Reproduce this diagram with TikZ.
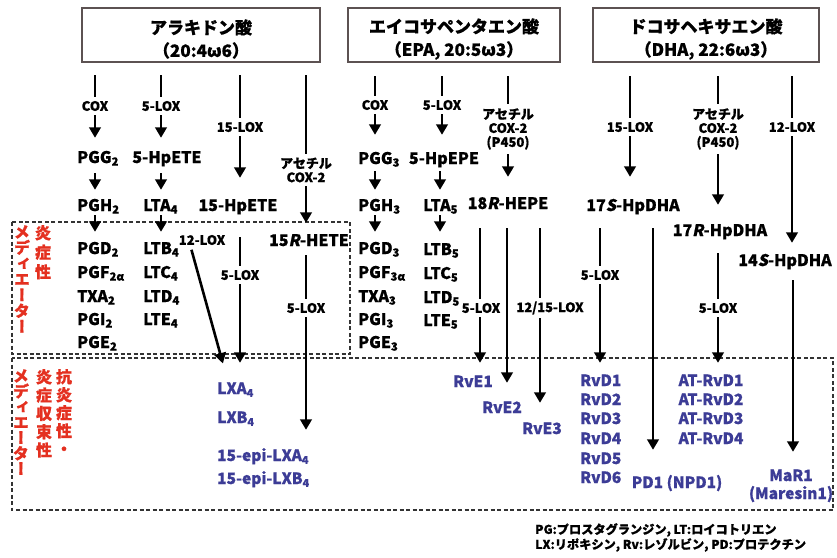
\documentclass[tikz,border=0pt]{standalone}
\usepackage{fontspec}
\setmainfont{Noto Sans CJK JP}[BoldFeatures={FakeBold=0.7}]
\newfontfamily\slantjp{Noto Sans CJK JP}[FakeSlant=0.2,BoldFeatures={FakeBold=0.7}]
\newfontfamily\vertjp{Noto Sans CJK JP}[RawFeature=+vert,BoldFeatures={FakeBold=0.7}]
\usetikzlibrary{arrows.meta}
\definecolor{mblue}{RGB}{60,60,150}
\definecolor{mred}{RGB}{228,48,32}
\definecolor{boxgray}{RGB}{92,82,82}
\newcommand\Sl[1]{{\slantjp\bfseries #1}}
\begin{document}
\begin{tikzpicture}[x=1pt,y=-1pt,
  every node/.style={inner sep=0pt},
  cmp/.style={font=\fontsize{16}{18}\selectfont\bfseries, text height=12pt, text depth=3.5pt},
  blu/.style={font=\fontsize{15.5}{18}\selectfont\bfseries, text=mblue, text height=12pt, text depth=3.5pt},
  enz/.style={font=\fontsize{13}{14}\selectfont\bfseries, fill=white, inner xsep=1pt, inner ysep=4pt, align=center},
  arr/.style={line width=2.6pt, -{Triangle[width=11.5pt,length=10.5pt]}},
  ttlbox/.style={draw=boxgray, line width=2pt, minimum height=54pt},
  ttltext/.style={align=center, font=\fontsize{17}{23}\selectfont\bfseries},
  dbox/.style={draw=black!80, line width=1.5pt, dash pattern=on 4pt off 2.5pt},
  vred/.style={text=mred, align=center, anchor=north},
]
\useasboundingbox (0,0) rectangle (837,557);
\fill[white] (0,0) rectangle (837,557);

% dashed boxes
\draw[dbox] (12,222) rectangle (350,354);
\draw[dbox] (12,358) rectangle (833,510);

% titles
\node[ttlbox, minimum width=238pt] (aa) at (201,35) {};
\node[ttltext] (aat) at (201,39) {アラキドン酸\\（20:4ω6）};
\node[ttlbox, minimum width=212pt] (epa) at (454,35) {};
\node[ttltext] (epat) at (454,39) {エイコサペンタエン酸\\（EPA, 20:5ω3）};
\node[ttlbox, minimum width=226pt] (dha) at (706,35) {};
\node[ttltext] (dhat) at (706,39) {ドコサヘキサエン酸\\（DHA, 22:6ω3）};

% ---- arachidonic acid column ----
\node[cmp, anchor=base west] (pgg2) at (77,163) {PGG\textsubscript{2}};
\node[cmp, anchor=base] (hpete5) at (167,163) {5-HpETE};
\node[cmp, anchor=base west] (pgh2) at (77,211) {PGH\textsubscript{2}};
\node[cmp, anchor=base west] (lta4) at (143,211) {LTA\textsubscript{4}};
\node[cmp, anchor=base] (hpete15) at (238,211) {15-HpETE};
\node[cmp, anchor=base] (hete15r) at (309,246) {15\Sl{R}-HETE};
\node[cmp, anchor=base west] (pgd2) at (77,254) {PGD\textsubscript{2}};
\node[cmp, anchor=base west] (pgf2a) at (77,278) {PGF\textsubscript{2α}};
\node[cmp, anchor=base west] (txa2) at (77,302) {TXA\textsubscript{2}};
\node[cmp, anchor=base west] (pgi2) at (77,325) {PGI\textsubscript{2}};
\node[cmp, anchor=base west] (pge2) at (77,348) {PGE\textsubscript{2}};
\node[cmp, anchor=base west] (ltb4) at (143,254) {LTB\textsubscript{4}};
\node[cmp, anchor=base west] (ltc4) at (143,278) {LTC\textsubscript{4}};
\node[cmp, anchor=base west] (ltd4) at (143,302) {LTD\textsubscript{4}};
\node[cmp, anchor=base west] (lte4) at (143,325) {LTE\textsubscript{4}};
\node[blu, anchor=base west] (lxa4) at (217,394) {LXA\textsubscript{4}};
\node[blu, anchor=base west] (lxb4) at (217,423) {LXB\textsubscript{4}};
\node[blu, anchor=base west] (epia4) at (217,461) {15-epi-LXA\textsubscript{4}};
\node[blu, anchor=base west] (epib4) at (217,484) {15-epi-LXB\textsubscript{4}};

\draw[arr, shorten <=12pt, shorten >=13pt] (aa.south -| 95,0) -- (pgg2.north -| 95,0);
\draw[arr, shorten <=12pt, shorten >=13pt] (aa.south -| 161,0) -- (hpete5.north -| 161,0);
\draw[arr, shorten <=6.5pt, shorten >=9pt] (pgg2.south -| 95,0) -- (pgh2.north -| 95,0);
\draw[arr, shorten <=6.5pt, shorten >=9pt] (hpete5.south -| 161,0) -- (lta4.north -| 161,0);
\draw[arr, shorten <=12pt, shorten >=21pt] (aa.south -| 240,0) -- (hpete15.north -| 240,0);
\draw[arr, shorten <=12pt, shorten >=11pt] (aa.south -| 306,0) -- (hete15r.north -| 306,0);
\draw[arr, shorten <=0.5pt, shorten >=10pt] (pgh2.south -| 95,0) -- (pgd2.north -| 95,0);
\draw[arr, shorten <=0.5pt, shorten >=10pt] (lta4.south -| 161,0) -- (ltb4.north -| 161,0);
\draw[arr, shorten >=19pt] ([xshift=12pt]ltb4.east) -- (lxa4.north -| 228,0);
\draw[arr, shorten <=22.5pt, shorten >=19pt] (hpete15.south -| 240,0) -- (lxa4.north -| 240,0);
\draw[arr, shorten <=5.5pt, shorten >=19pt] (hete15r.south -| 306,0) -- (epia4.north -| 306,0);

\node[enz] (lcoxa) at (95,106) {COX};
\node[enz] (l5loxa) at (161,106) {5-LOX};
\node[enz] (l15loxa) at (240,127) {15-LOX};
\node[enz] (lacoxa) at (306,170) {アセチル\\COX-2};
\node[font=\fontsize{13}{14}\selectfont\bfseries] (l12loxa) at (202,240) {12-LOX};
\node[enz] (l5loxb) at (240,275) {5-LOX};
\node[enz] (l5loxc) at (306,308) {5-LOX};

% ---- EPA column ----
\node[cmp, anchor=base west] (pgg3) at (358,164) {PGG\textsubscript{3}};
\node[cmp, anchor=base] (hpepe5) at (444,164) {5-HpEPE};
\node[cmp, anchor=base] (hepe18r) at (508,209) {18\Sl{R}-HEPE};
\node[cmp, anchor=base west] (pgh3) at (358,211) {PGH\textsubscript{3}};
\node[cmp, anchor=base west] (lta5) at (423,211) {LTA\textsubscript{5}};
\node[cmp, anchor=base west] (pgd3) at (358,254) {PGD\textsubscript{3}};
\node[cmp, anchor=base west] (pgf3a) at (358,278) {PGF\textsubscript{3α}};
\node[cmp, anchor=base west] (txa3) at (358,302) {TXA\textsubscript{3}};
\node[cmp, anchor=base west] (pgi3) at (358,325) {PGI\textsubscript{3}};
\node[cmp, anchor=base west] (pge3) at (358,348) {PGE\textsubscript{3}};
\node[cmp, anchor=base west] (ltb5) at (423,255) {LTB\textsubscript{5}};
\node[cmp, anchor=base west] (ltc5) at (423,279) {LTC\textsubscript{5}};
\node[cmp, anchor=base west] (ltd5) at (423,303) {LTD\textsubscript{5}};
\node[cmp, anchor=base west] (lte5) at (423,326) {LTE\textsubscript{5}};
\node[blu, anchor=base] (rve1) at (473,387) {RvE1};
\node[blu, anchor=base] (rve2) at (502,413) {RvE2};
\node[blu, anchor=base] (rve3) at (542,434) {RvE3};

\draw[arr, shorten <=13pt, shorten >=17pt] (epa.south -| 375,0) -- (pgg3.north -| 375,0);
\draw[arr, shorten <=13pt, shorten >=17pt] (epa.south -| 442,0) -- (hpepe5.north -| 442,0);
\draw[arr, shorten <=13pt, shorten >=20pt] (epa.south -| 508,0) -- (hepe18r.north -| 508,0);
\draw[arr, shorten <=3.5pt, shorten >=9pt] (pgg3.south -| 375,0) -- (pgh3.north -| 375,0);
\draw[arr, shorten <=3.5pt, shorten >=9pt] (hpepe5.south -| 440,0) -- (lta5.north -| 440,0);
\draw[arr, shorten <=0.5pt, shorten >=10pt] (pgh3.south -| 375,0) -- (pgd3.north -| 375,0);
\draw[arr, shorten <=0.5pt, shorten >=11pt] (lta5.south -| 440,0) -- (ltb5.north -| 440,0);
\draw[arr, shorten <=15.5pt, shorten >=12pt] (hepe18r.south -| 480,0) -- (rve1.north -| 480,0);
\draw[arr, shorten <=15.5pt, shorten >=18pt] (hepe18r.south -| 507,0) -- (rve2.north -| 507,0);
\draw[arr, shorten <=15.5pt, shorten >=19pt] (hepe18r.south -| 540,0) -- (rve3.north -| 540,0);

\node[enz] (lcoxb) at (375,105) {COX};
\node[enz] (l5loxd) at (442,105) {5-LOX};
\node[enz] (lacoxb) at (508,129) {アセチル\\COX-2\\(P450)};
\node[enz] (l5loxe) at (481,308) {5-LOX};
\node[enz] (l1215lox) at (550,308) {12/15-LOX};

% ---- DHA column ----
\node[cmp, anchor=base] (hpdha17s) at (633,211) {17\Sl{S}-HpDHA};
\node[cmp, anchor=base] (hpdha17r) at (720,236) {17\Sl{R}-HpDHA};
\node[cmp, anchor=base] (hpdha14s) at (785,266) {14\Sl{S}-HpDHA};
\node[blu, anchor=base west] (rvd1) at (580,386) {RvD1};
\node[blu, anchor=base west] (rvd2) at (580,405) {RvD2};
\node[blu, anchor=base west] (rvd3) at (580,424) {RvD3};
\node[blu, anchor=base west] (rvd4) at (580,444) {RvD4};
\node[blu, anchor=base west] (rvd5) at (580,464) {RvD5};
\node[blu, anchor=base west] (rvd6) at (580,483) {RvD6};
\node[blu, anchor=base] (atrvd1) at (711,386) {AT-RvD1};
\node[blu, anchor=base] (atrvd2) at (711,405) {AT-RvD2};
\node[blu, anchor=base] (atrvd3) at (711,424) {AT-RvD3};
\node[blu, anchor=base] (atrvd4) at (711,444) {AT-RvD4};
\node[blu, anchor=base] (pd1) at (677,488) {PD1 (NPD1)};
\node[blu, anchor=base] (mar1) at (791,481) {MaR1};
\node[blu, anchor=base] (maresin) at (791,499) {(Maresin1)};

\draw[arr, shorten <=13pt, shorten >=22pt] (dha.south -| 630,0) -- (hpdha17s.north -| 630,0);
\draw[arr, shorten <=13pt, shorten >=19pt] (dha.south -| 718,0) -- (hpdha17r.north -| 718,0);
\draw[arr, shorten <=13pt, shorten >=11pt] (dha.south -| 792,0) -- (hpdha14s.north -| 792,0);
\draw[arr, shorten <=13.5pt, shorten >=11pt] (hpdha17s.south -| 600,0) -- (rvd1.north -| 600,0);
\draw[arr, shorten <=13.5pt, shorten >=26pt] (hpdha17s.south -| 653,0) -- (pd1.north -| 653,0);
\draw[arr, shorten <=13.5pt, shorten >=11pt] (hpdha17r.south -| 718,0) -- (atrvd1.north -| 718,0);
\draw[arr, shorten <=10.5pt, shorten >=17pt] (hpdha14s.south -| 793,0) -- (mar1.north -| 793,0);

\node[enz] (l15loxb) at (630,127) {15-LOX};
\node[enz] (lacoxc) at (718,129) {アセチル\\COX-2\\(P450)};
\node[enz] (l12loxb) at (792,127) {12-LOX};
\node[enz] (l5loxf) at (600,275) {5-LOX};
\node[enz] (l5loxg) at (718,308) {5-LOX};

% ---- red vertical labels ----
\node[vred, font=\vertjp\fontsize{16}{19.5}\selectfont\bfseries] (rinfl) at (43,225) {炎\\症\\性};
\node[vred, font=\vertjp\fontsize{16}{15.8}\selectfont\bfseries] (rmed1) at (22,225) {メ\\デ\\ィ\\エ\\ー\\タ\\ー};
\node[vred, font=\vertjp\fontsize{16}{18}\selectfont\bfseries] (ranti) at (64,369) {抗\\炎\\症\\性\\・};
\node[vred, font=\vertjp\fontsize{16}{18.3}\selectfont\bfseries] (rres) at (44,369) {炎\\症\\収\\束\\性};
\node[vred, font=\vertjp\fontsize{16}{15.5}\selectfont\bfseries] (rmed2) at (21,369) {メ\\デ\\ィ\\エ\\ー\\タ\\ー};

% legend
\node[font=\fontsize{12.2}{15}\selectfont\bfseries, align=left, anchor=north west] (legend) at (535,523) {PG:プロスタグランジン, LT:ロイコトリエン\\LX:リポキシン, Rv:レゾルビン, PD:プロテクチン};
\end{tikzpicture}
\end{document}
